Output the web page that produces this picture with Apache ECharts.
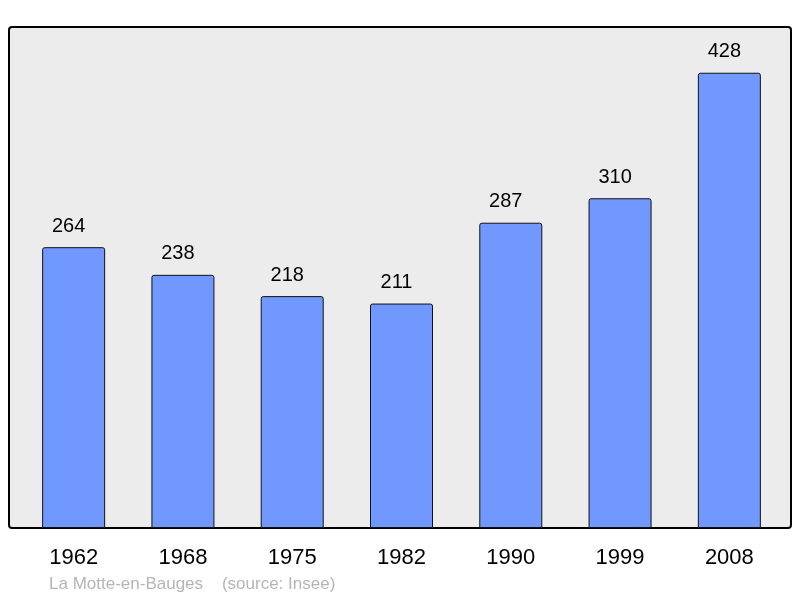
<!DOCTYPE html>
<html lang="fr">
<head>
    <meta charset="UTF-8">
    <title>La Motte-en-Bauges</title>
    <script src="https://cdn.jsdelivr.net/npm/echarts@6/dist/echarts.min.js"></script>
    <style type="text/css">
        html, body {
            margin: 0;
            padding: 0;
            background: #fff;
        }
        #chart {
            width: 800px;
            height: 598px;
        }
    </style>
</head>
<body>
<div id="chart"></div>
<script type="text/javascript">
    // population par recensement
    var years = ['1962', '1968', '1975', '1982', '1990', '1999', '2008'];
    var population = [264, 238, 218, 211, 287, 310, 428];
    var footer = 'La Motte-en-Bauges    (source: Insee)';

    var myChart = echarts.init(document.getElementById('chart'));
    var option = {
        animation: false,
        textStyle: {fontFamily: 'Liberation Sans'},
        graphic: [
            {
                // cadre gris du graphique
                type: 'rect',
                z: -10,
                shape: {x: 9, y: 27, width: 782, height: 501, r: 3},
                style: {fill: '#ececec', stroke: '#000', lineWidth: 2}
            },
            {
                type: 'text',
                left: 49,
                top: 576,
                style: {text: footer, fill: '#b5b5b5', font: '17px "Liberation Sans"'}
            }
        ],
        grid: {left: 19, right: 16, top: 27, bottom: 70},
        xAxis: {
            type: 'category',
            data: years,
            axisLine: {show: false},
            axisTick: {show: false},
            axisLabel: {color: '#000', fontSize: 22, margin: 19}
        },
        yAxis: {
            type: 'value',
            min: 0,
            max: 471,
            show: false,
            splitLine: {show: false}
        },
        series: [
            {
                type: 'bar',
                data: population,
                barWidth: 63,
                itemStyle: {
                    color: '#7098ff',
                    borderColor: '#111',
                    borderWidth: 1,
                    borderRadius: [2, 2, 0, 0]
                },
                label: {
                    show: true,
                    position: 'top',
                    distance: 11,
                    offset: [-5, 0],
                    color: '#000',
                    fontSize: 20
                }
            }
        ]
    };
    myChart.setOption(option);
</script>
</body>
</html>
